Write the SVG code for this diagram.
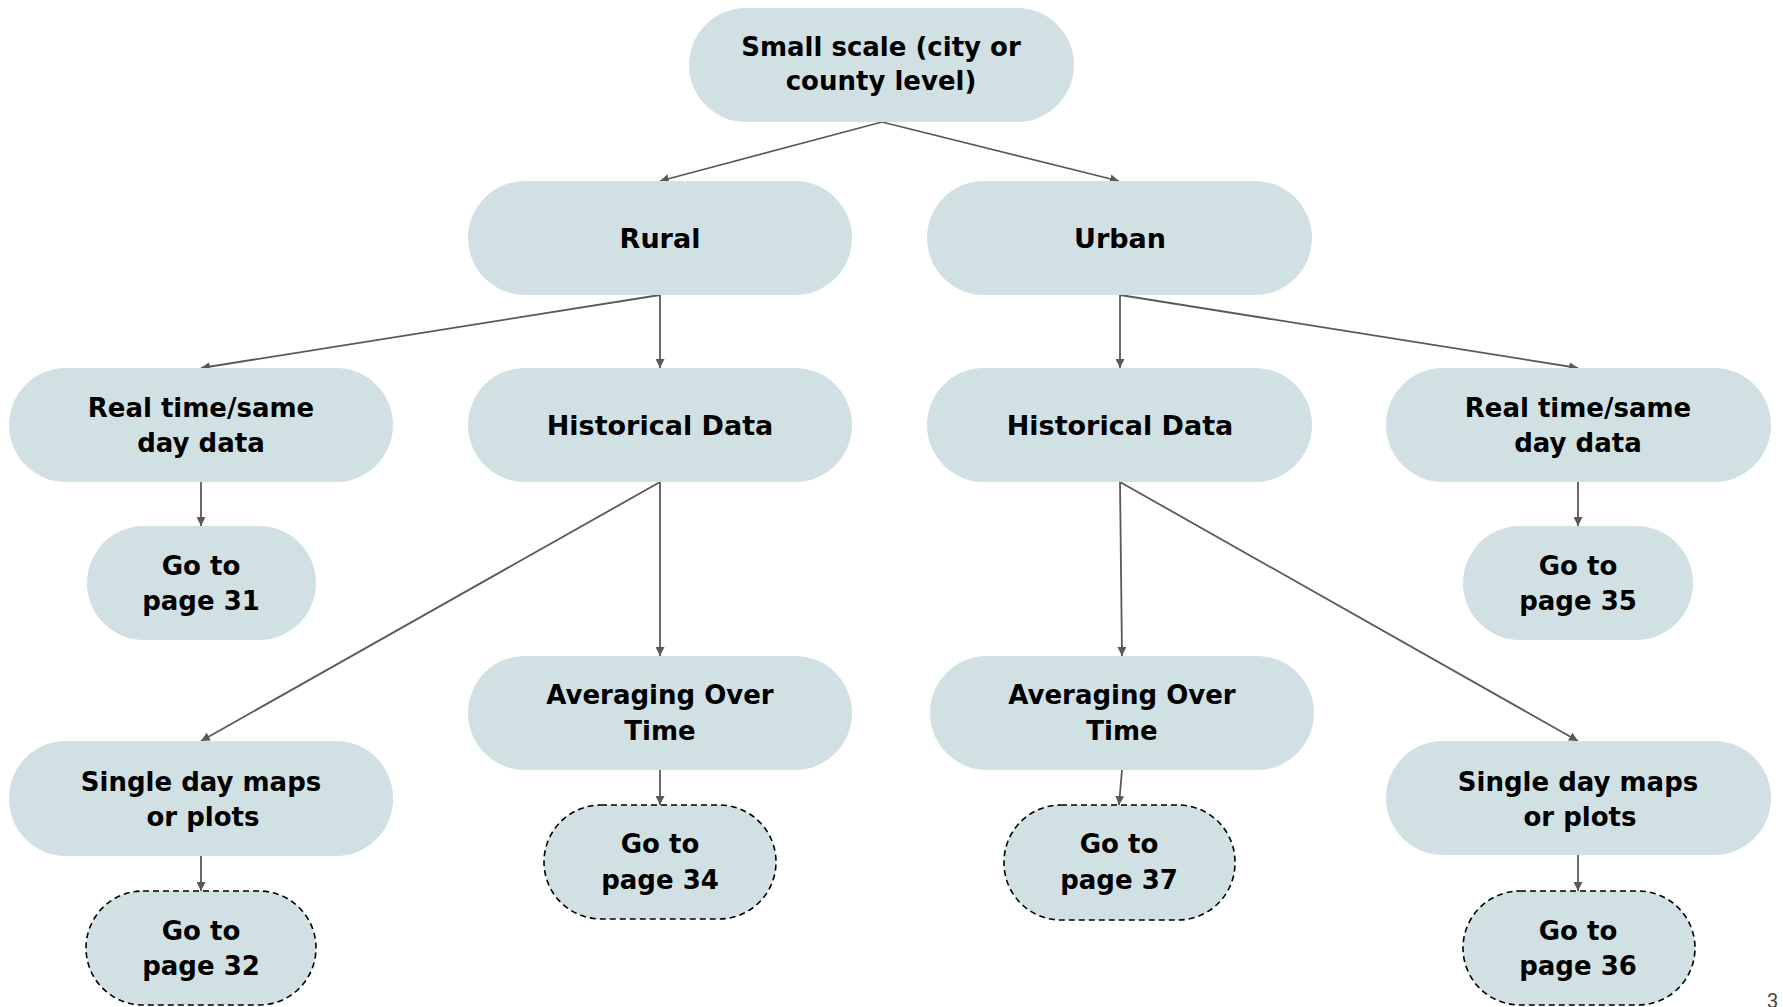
<svg xmlns="http://www.w3.org/2000/svg" width="1783" height="1007" viewBox="0 0 1783 1007">
  <style>
    .node { fill: #d0e0e3; }
    .dashed { stroke: #000; stroke-width: 1.6; stroke-dasharray: 6 4; }
    .label { font-family: "DejaVu Sans", "Liberation Sans", sans-serif; font-weight: 700; fill: #000; text-anchor: middle; }
    .big { font-size: 27px; }
    .two { font-size: 26px; }
    .edge { stroke: #595959; stroke-width: 1.8; fill: none; marker-end: url(#arrow); }
    .pageno { font-family: Roboto, "Liberation Sans", sans-serif; font-size: 20px; fill: #444; }
  </style>
  <defs>
    <marker id="arrow" markerUnits="userSpaceOnUse" markerWidth="10" markerHeight="9" refX="9" refY="4.5" orient="auto">
      <path d="M0,0 L9,4.5 L0,9 z" fill="#595959"/>
    </marker>
  </defs>

  <rect width="1783" height="1007" fill="#ffffff"/>

  <!-- connectors -->
  <g id="connectors">
    <line class="edge" x1="882" y1="122" x2="660" y2="181"/>
    <line class="edge" x1="882" y1="122" x2="1119" y2="181"/>
    <line class="edge" x1="660" y1="295" x2="201" y2="368"/>
    <line class="edge" x1="660" y1="295" x2="660" y2="368"/>
    <line class="edge" x1="1120" y1="295" x2="1120" y2="368"/>
    <line class="edge" x1="1120" y1="295" x2="1578" y2="368"/>
    <line class="edge" x1="201" y1="482" x2="201" y2="526"/>
    <line class="edge" x1="1578" y1="482" x2="1578" y2="526"/>
    <line class="edge" x1="660" y1="482" x2="201" y2="741"/>
    <line class="edge" x1="660" y1="482" x2="660" y2="656"/>
    <line class="edge" x1="1120" y1="482" x2="1122" y2="656"/>
    <line class="edge" x1="1120" y1="482" x2="1578" y2="741"/>
    <line class="edge" x1="660" y1="770" x2="660" y2="805"/>
    <line class="edge" x1="1122" y1="770" x2="1119" y2="805"/>
    <line class="edge" x1="201" y1="856" x2="201" y2="891"/>
    <line class="edge" x1="1578" y1="855" x2="1578" y2="891"/>
  </g>

  <!-- level 0 -->
  <g id="small-scale">
    <rect class="node" x="689" y="8" width="385" height="114" rx="57"/>
    <text class="label two" x="881" y="56">Small scale (city or</text>
    <text class="label two" x="881" y="90">county level)</text>
  </g>

  <!-- level 1 -->
  <g id="rural">
    <rect class="node" x="468" y="181" width="384" height="114" rx="57"/>
    <text class="label big" x="660" y="248">Rural</text>
  </g>
  <g id="urban">
    <rect class="node" x="927" y="181" width="385" height="114" rx="57"/>
    <text class="label big" x="1120" y="248">Urban</text>
  </g>

  <!-- level 2 -->
  <g id="rural-realtime">
    <rect class="node" x="9" y="368" width="384" height="114" rx="57"/>
    <text class="label two" x="201" y="417">Real time/same</text>
    <text class="label two" x="201" y="452">day data</text>
  </g>
  <g id="rural-historical">
    <rect class="node" x="468" y="368" width="384" height="114" rx="57"/>
    <text class="label big" x="660" y="435">Historical Data</text>
  </g>
  <g id="urban-historical">
    <rect class="node" x="927" y="368" width="385" height="114" rx="57"/>
    <text class="label big" x="1120" y="435">Historical Data</text>
  </g>
  <g id="urban-realtime">
    <rect class="node" x="1386" y="368" width="385" height="114" rx="57"/>
    <text class="label two" x="1578" y="417">Real time/same</text>
    <text class="label two" x="1578" y="452">day data</text>
  </g>

  <!-- real-time destinations -->
  <g id="page-31">
    <rect class="node" x="87" y="526" width="229" height="114" rx="57"/>
    <text class="label two" x="201" y="575">Go to</text>
    <text class="label two" x="201" y="610">page 31</text>
  </g>
  <g id="page-35">
    <rect class="node" x="1463" y="526" width="230" height="114" rx="57"/>
    <text class="label two" x="1578" y="575">Go to</text>
    <text class="label two" x="1578" y="610">page 35</text>
  </g>

  <!-- level 3 -->
  <g id="rural-averaging">
    <rect class="node" x="468" y="656" width="384" height="114" rx="57"/>
    <text class="label two" x="660" y="704">Averaging Over</text>
    <text class="label two" x="660" y="740">Time</text>
  </g>
  <g id="urban-averaging">
    <rect class="node" x="930" y="656" width="384" height="114" rx="57"/>
    <text class="label two" x="1122" y="704">Averaging Over</text>
    <text class="label two" x="1122" y="740">Time</text>
  </g>
  <g id="rural-single-day">
    <rect class="node" x="9" y="741" width="384" height="115" rx="57"/>
    <text class="label two" x="201" y="791">Single day maps</text>
    <text class="label two" x="203" y="826">or plots</text>
  </g>
  <g id="urban-single-day">
    <rect class="node" x="1386" y="741" width="385" height="114" rx="57"/>
    <text class="label two" x="1578" y="791">Single day maps</text>
    <text class="label two" x="1580" y="826">or plots</text>
  </g>

  <!-- dashed destinations -->
  <g id="page-34">
    <rect class="node dashed" x="544" y="805" width="232" height="114" rx="57"/>
    <text class="label two" x="660" y="853">Go to</text>
    <text class="label two" x="660" y="889">page 34</text>
  </g>
  <g id="page-37">
    <rect class="node dashed" x="1004" y="805" width="231" height="115" rx="57"/>
    <text class="label two" x="1119" y="853">Go to</text>
    <text class="label two" x="1119" y="889">page 37</text>
  </g>
  <g id="page-32">
    <rect class="node dashed" x="86" y="891" width="230" height="114" rx="57"/>
    <text class="label two" x="201" y="940">Go to</text>
    <text class="label two" x="201" y="975">page 32</text>
  </g>
  <g id="page-36">
    <rect class="node dashed" x="1463" y="891" width="232" height="114" rx="57"/>
    <text class="label two" x="1578" y="940">Go to</text>
    <text class="label two" x="1578" y="975">page 36</text>
  </g>

  <text class="pageno" x="1767" y="1008">3</text>
</svg>
